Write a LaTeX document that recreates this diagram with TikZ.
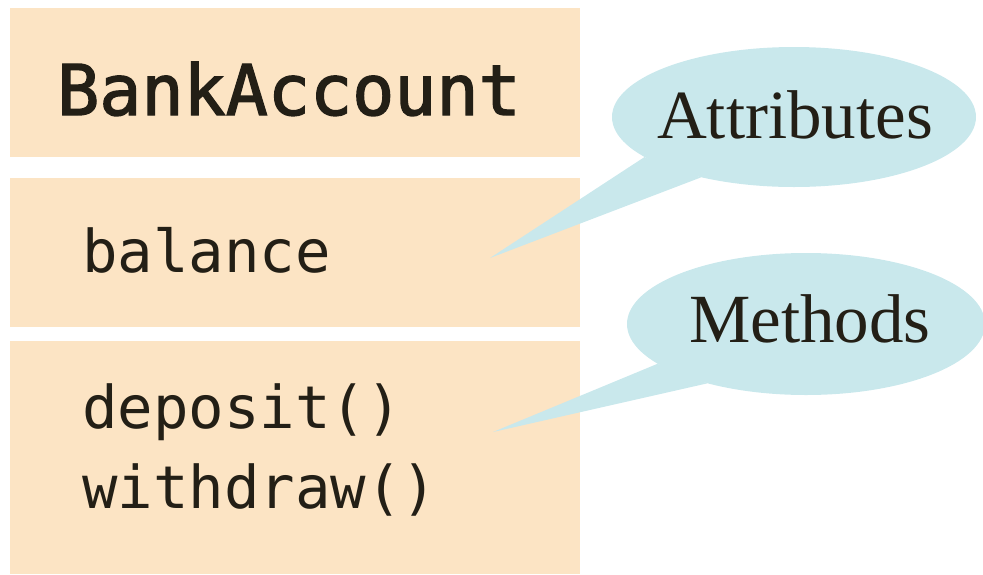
\documentclass[tikz,border=0pt]{standalone}
\usepackage{fontspec}
\setmainfont{Liberation Serif}
\setmonofont{DejaVu Sans Mono}
\newfontfamily\classnamefont[FakeBold=2]{DejaVu Sans Mono}
\usetikzlibrary{shapes.geometric}
\definecolor{boxfill}{HTML}{FCE4C4}
\definecolor{bubble}{HTML}{C9E8EC}
\definecolor{ink}{HTML}{231F16}
\begin{document}
\begin{tikzpicture}[x=1pt,y=-1pt,
  classbox/.style={fill=boxfill, draw=none, anchor=north west, minimum width=570pt, inner sep=0pt},
  member/.style={anchor=base west, inner sep=0pt, text=ink, font=\ttfamily\fontsize{59}{71}\selectfont},
  classname/.style={anchor=base west, inner sep=0pt, text=ink, font=\classnamefont\fontsize{70}{84}\selectfont},
  bubblenode/.style={ellipse, fill=bubble, inner sep=0pt},
  bubbletext/.style={anchor=base, inner sep=0pt, text=ink, font=\fontsize{69}{83}\selectfont},
]
\useasboundingbox (0,0) rectangle (983,574);

% class compartments
\node[classbox, minimum height=149pt] (head) at (10,8) {};
\node[classbox, minimum height=149pt] (fields) at (10,178) {};
\node[classbox, minimum height=233pt] (ops) at (10,341) {};

% compartment contents
\node[classname] (name) at (57,115) {BankAccount};
\node[member] (balance) at (82,272) {balance};
\node[member] (deposit) at (82,428) {deposit()};
\node[member] (withdraw) at (82,508) {withdraw()};

% callout bubbles
\node[bubblenode, minimum width=364pt, minimum height=140pt] (attr) at (794,117) {};
\node[bubblenode, minimum width=358pt, minimum height=142pt] (meth) at (806,324) {};

% callout pointers
\coordinate (attrtip) at (490,258);
\coordinate (methtip) at (493,432);
\fill[bubble] (attr.195) -- (attrtip) -- (attr.213) -- cycle;
\fill[bubble] (meth.195) -- (methtip) -- (meth.211) -- cycle;

% callout labels
\node[bubbletext] (attrlabel) at (795,138) {Attributes};
\node[bubbletext] (methlabel) at (810,342) {Methods};
\end{tikzpicture}
\end{document}
